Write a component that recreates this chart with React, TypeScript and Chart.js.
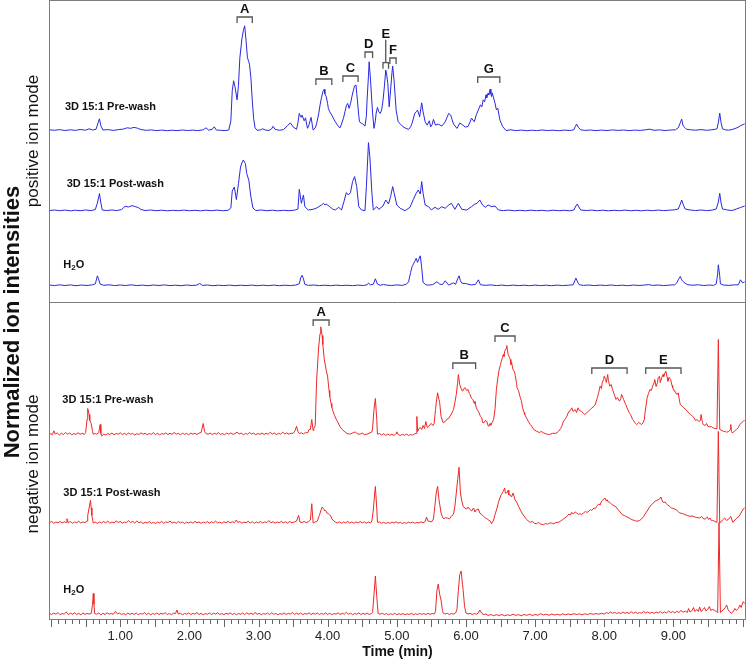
import React, { useEffect, useRef } from 'react';
import { Chart, registerables } from 'chart.js';

Chart.register(...registerables);

// ---------------- DATA (time in min, intensity above each trace's own baseline, arbitrary units) ----------------
type Pt = [number, number];

const POS_PRE_WASH: Pt[] = [
  [-0.02, 1], [0.05, 0.5], [0.12, 1.2], [0.2, 0.3], [0.28, 1], [0.35, 0.4], [0.42, 1.3], [0.5, 0.6], [0.55, 2], [0.6, 0.8],
  [0.65, 1.5], [0.68, 8], [0.70, 12], [0.72, 5], [0.75, 0.8], [0.82, 1.2], [0.9, 0.4], [0.97, 1.1], [1.05, 1.8], [1.1, 3],
  [1.15, 2.5], [1.2, 3.4], [1.25, 2.6], [1.3, 1.2], [1.38, 0.5], [1.45, 0.9], [1.52, 0.2], [1.6, 0.7], [1.68, 0.1], [1.75, 0.6],
  [1.82, 0.2], [1.9, 0.8], [1.97, 0.3], [2.05, 0.7], [2.12, 0.2], [2.2, 1], [2.24, 3], [2.28, 0.6], [2.33, 1.5], [2.36, 4],
  [2.39, 0.8], [2.45, 0.5], [2.52, 0.2], [2.57, 0.8], [2.60, 10], [2.62, 40], [2.64, 50], [2.66, 44], [2.69, 31], [2.71, 45],
  [2.73, 73], [2.76, 92], [2.78, 100], [2.80, 105], [2.82, 90], [2.84, 73], [2.86, 69], [2.87, 66], [2.89, 53], [2.91, 30],
  [2.93, 12], [2.95, 3], [2.98, 0.5], [3.03, 1], [3.06, 2], [3.1, 0.7], [3.15, 0.3], [3.19, 2], [3.21, 4.5], [3.24, 1.5],
  [3.3, 0.5], [3.36, 1.2], [3.42, 5], [3.46, 8], [3.50, 4], [3.55, 1.5], [3.57, 8], [3.59, 17.4], [3.61, 14], [3.62, 13.5],
  [3.63, 15.7], [3.66, 10], [3.68, 13], [3.70, 5], [3.71, 2.5], [3.73, 6], [3.76, 13.4], [3.78, 5], [3.79, 0.7], [3.82, 3],
  [3.84, 7], [3.87, 17], [3.89, 25.7], [3.91, 33], [3.93, 39], [3.95, 41.4], [3.96, 37], [3.98, 34], [4.00, 27], [4.01, 22.4],
  [4.03, 19], [4.06, 15.7], [4.08, 13], [4.11, 9], [4.14, 6], [4.16, 4], [4.18, 3], [4.20, 6.7], [4.23, 13], [4.25, 19],
  [4.27, 25], [4.29, 27.4], [4.31, 22.4], [4.33, 27], [4.35, 34], [4.37, 40], [4.39, 45], [4.41, 45.7], [4.43, 30.7], [4.45, 15],
  [4.46, 9], [4.49, 7.5], [4.51, 6.7], [4.54, 4.7], [4.56, 15], [4.57, 30.7], [4.59, 55], [4.60, 69], [4.62, 50.7], [4.64, 28],
  [4.65, 17.4], [4.67, 2.4], [4.69, 10], [4.70, 17], [4.72, 23.4], [4.74, 19], [4.76, 17.4], [4.78, 20.7], [4.80, 30], [4.82, 44],
  [4.84, 60.7], [4.85, 58], [4.87, 47.4], [4.89, 24], [4.91, 40.7], [4.93, 58], [4.94, 64.7], [4.96, 50.7], [4.99, 20.7], [5.02, 9],
  [5.05, 7], [5.09, 4], [5.13, 2.5], [5.17, 1.4], [5.20, 4], [5.22, 7.4], [5.26, 17.4], [5.28, 19], [5.30, 20.7], [5.33, 14],
  [5.36, 28], [5.38, 19], [5.41, 9], [5.44, 5.7], [5.47, 10], [5.49, 4], [5.51, 6], [5.53, 11.4], [5.56, 5.7], [5.60, 6.7],
  [5.65, 4.7], [5.70, 9], [5.73, 14], [5.75, 17.4], [5.78, 15.7], [5.80, 11], [5.82, 6.7], [5.87, 2.4], [5.91, 7.7], [5.95, 6],
  [5.99, 3.7], [6.03, 4.3], [6.06, 9], [6.08, 12.7], [6.12, 9], [6.15, 16], [6.18, 21], [6.21, 26], [6.23, 24], [6.25, 31],
  [6.27, 29], [6.29, 36], [6.30, 33], [6.32, 37.7], [6.33, 36], [6.35, 41.7], [6.36, 37], [6.37, 34.3], [6.38, 38], [6.40, 32.7],
  [6.42, 27.7], [6.44, 21], [6.46, 22.7], [6.49, 11], [6.53, 4.3], [6.58, 0.3], [6.65, 1], [6.72, 0.2], [6.8, 0.7], [6.88, 0.1],
  [6.95, 0.6], [7.02, 0.2], [7.1, 0.8], [7.18, 0.3], [7.26, 0.6], [7.34, 0.1], [7.42, 0.7], [7.50, 0.3], [7.56, 1], [7.58, 4],
  [7.60, 6.7], [7.63, 3], [7.66, 1], [7.72, 0.4], [7.8, 0.8], [7.88, 0.2], [7.96, 0.7], [8.04, 0.3], [8.12, 0.9], [8.2, 0.4],
  [8.28, 0.8], [8.36, 0.2], [8.44, 0.7], [8.52, 0.4], [8.6, 1], [8.66, 1.6], [8.72, 0.5], [8.8, 0.9], [8.88, 0.3], [8.96, 0.8],
  [9.03, 1], [9.07, 3], [9.10, 8], [9.12, 11.7], [9.14, 5], [9.17, 3], [9.19, 1.5], [9.25, 1], [9.32, 0.6], [9.4, 1.2],
  [9.48, 0.5], [9.55, 1], [9.60, 1.5], [9.63, 2], [9.65, 8], [9.67, 17.7], [9.69, 8], [9.71, 2], [9.75, 1], [9.8, 0.6],
  [9.86, 1.5], [9.92, 3], [9.97, 5], [10.03, 7],
];

const POS_POST_WASH: Pt[] = [
  [-0.02, 0.5], [0.05, 1], [0.12, 0.3], [0.2, 0.9], [0.28, 0.2], [0.35, 0.8], [0.42, 0.3], [0.5, 1], [0.58, 0.4], [0.64, 1.5],
  [0.67, 8], [0.70, 17.4], [0.72, 8], [0.74, 1], [0.8, 0.5], [0.88, 1], [0.95, 0.4], [1.02, 1.5], [1.07, 4.7], [1.12, 4],
  [1.17, 5.4], [1.21, 4.5], [1.26, 3.5], [1.3, 1.5], [1.36, 0.5], [1.44, 1], [1.52, 0.3], [1.6, 0.8], [1.68, 0.2], [1.76, 0.7],
  [1.84, 0.3], [1.92, 0.9], [2.0, 0.3], [2.08, 0.7], [2.16, 0.2], [2.24, 0.8], [2.32, 0.3], [2.40, 0.9], [2.48, 0.3], [2.56, 0.7],
  [2.60, 3], [2.62, 20], [2.65, 24], [2.68, 11.4], [2.71, 27.4], [2.74, 44], [2.76, 48], [2.78, 51], [2.81, 47.4], [2.83, 37.4],
  [2.86, 30.7], [2.89, 14], [2.92, 3], [2.96, 0.5], [3.04, 1], [3.12, 0.3], [3.2, 0.8], [3.28, 0.2], [3.36, 0.7], [3.44, 0.3],
  [3.52, 0.8], [3.57, 2], [3.59, 21.7], [3.62, 7.7], [3.65, 16], [3.67, 4.3], [3.72, 1], [3.79, 1.7], [3.84, 3], [3.87, 4.3],
  [3.91, 6], [3.94, 7.7], [3.96, 6], [3.98, 7], [4.03, 4.3], [4.07, 2], [4.11, 1], [4.16, 3.7], [4.20, 1], [4.23, 8],
  [4.27, 18.4], [4.30, 16], [4.33, 18.4], [4.36, 29.4], [4.39, 34.4], [4.42, 24.4], [4.45, 4.3], [4.49, 1], [4.54, 0.3], [4.56, 24.4],
  [4.59, 68.4], [4.61, 54.4], [4.64, 17.7], [4.66, 1], [4.71, 4.3], [4.74, 1.7], [4.80, 5], [4.84, 11], [4.88, 7], [4.91, 14.4],
  [4.94, 24.4], [4.96, 18.4], [5.00, 6], [5.05, 2.7], [5.12, 0.3], [5.19, 3.7], [5.24, 11.7], [5.28, 17.7], [5.31, 21], [5.34, 17],
  [5.36, 29.4], [5.38, 17.7], [5.41, 6], [5.46, 4.3], [5.50, 1], [5.55, 3.7], [5.60, 1.7], [5.65, 4.3], [5.70, 2.7], [5.75, 6],
  [5.79, 7.7], [5.84, 1.7], [5.89, 7.7], [5.94, 1.7], [6.01, 1], [6.08, 4.3], [6.13, 7], [6.16, 7.7], [6.20, 11], [6.24, 6],
  [6.28, 3.7], [6.32, 6], [6.37, 4.3], [6.42, 5], [6.47, 1], [6.54, 0.4], [6.62, 0.9], [6.7, 0.2], [6.78, 0.7], [6.86, 0.2],
  [6.94, 0.8], [7.02, 0.3], [7.1, 0.7], [7.18, 0.1], [7.26, 0.8], [7.34, 0.3], [7.42, 0.7], [7.50, 0.2], [7.56, 1], [7.59, 5],
  [7.61, 7], [7.64, 3], [7.66, 1], [7.74, 0.5], [7.82, 0.9], [7.9, 0.3], [7.98, 0.8], [8.06, 0.2], [8.14, 0.7], [8.22, 0.3],
  [8.3, 0.9], [8.38, 0.3], [8.46, 0.7], [8.54, 0.2], [8.62, 0.8], [8.7, 0.3], [8.78, 0.9], [8.86, 0.4], [8.94, 0.8], [9.02, 1.2],
  [9.07, 2], [9.10, 7], [9.12, 11], [9.15, 5], [9.17, 2], [9.24, 1], [9.32, 0.5], [9.4, 1], [9.48, 0.4], [9.56, 0.9],
  [9.62, 2], [9.65, 9], [9.67, 17.7], [9.69, 8], [9.71, 2], [9.78, 1], [9.85, 0.5], [9.91, 2], [9.97, 3.5], [10.03, 5],
];

const POS_H2O: Pt[] = [
  [-0.02, 0.8], [0.05, 0.2], [0.12, 1], [0.2, 0.3], [0.28, 0.9], [0.36, 0.1], [0.44, 0.8], [0.52, 0.3], [0.6, 1], [0.64, 2],
  [0.67, 10], [0.69, 6], [0.71, 1.7], [0.76, 0.5], [0.84, 1], [0.92, 0.2], [1.0, 0.8], [1.08, 0.3], [1.16, 1], [1.24, 0.2],
  [1.32, 0.7], [1.4, 0.1], [1.48, 0.8], [1.56, 0.3], [1.64, 0.9], [1.72, 0.2], [1.8, 0.6], [1.88, 0.1], [1.96, 0.8], [2.04, 0.3],
  [2.1, 0.6], [2.15, 2.3], [2.19, 0.4], [2.26, 0.8], [2.34, 0.1], [2.42, 0.6], [2.5, 0.2], [2.58, 0.7], [2.66, 0.1], [2.74, 0.6],
  [2.82, 0.2], [2.9, 0.7], [2.98, 0.1], [3.06, 0.6], [3.14, 0.2], [3.22, 0.7], [3.3, 0.1], [3.38, 0.6], [3.46, 0.2], [3.54, 0.8],
  [3.59, 2], [3.61, 8], [3.63, 10.5], [3.65, 7], [3.67, 1.5], [3.72, 0.4], [3.8, 0.8], [3.88, 0.2], [3.96, 0.6], [4.04, 0.1],
  [4.12, 0.7], [4.2, 0.2], [4.28, 0.6], [4.36, 0.1], [4.44, 0.7], [4.52, 0.3], [4.57, 1], [4.59, 2.7], [4.62, 1], [4.66, 1.5],
  [4.69, 7], [4.72, 1.7], [4.76, 0.5], [4.81, 1.3], [4.85, 0.7], [4.92, 0.3], [5.0, 0.9], [5.08, 0.4], [5.14, 1.7], [5.17, 4],
  [5.20, 13.4], [5.22, 19], [5.24, 21.7], [5.26, 24.5], [5.28, 27.4], [5.30, 23.4], [5.32, 27], [5.34, 30], [5.36, 18], [5.38, 3.4],
  [5.42, 1], [5.46, 0.7], [5.52, 1.2], [5.58, 4], [5.62, 1.7], [5.66, 1.2], [5.70, 5], [5.75, 0.7], [5.82, 3], [5.85, 1.5],
  [5.88, 7], [5.90, 10], [5.92, 5], [5.94, 2.7], [6.01, 2], [6.08, 0.8], [6.14, 1.5], [6.18, 6], [6.21, 1], [6.28, 0.5],
  [6.36, 0.9], [6.44, 0.2], [6.52, 0.7], [6.6, 0.1], [6.68, 0.7], [6.76, 0.2], [6.84, 0.6], [6.92, 0.1], [7.0, 0.7], [7.08, 0.2],
  [7.16, 0.6], [7.24, 0.1], [7.32, 0.7], [7.4, 0.2], [7.48, 0.6], [7.55, 1], [7.59, 7.7], [7.62, 3], [7.64, 1], [7.7, 0.4],
  [7.78, 0.8], [7.86, 0.2], [7.94, 0.7], [8.02, 0.3], [8.1, 0.8], [8.18, 0.2], [8.26, 0.6], [8.34, 0.1], [8.42, 0.8], [8.5, 0.3],
  [8.58, 0.7], [8.64, 1.2], [8.7, 0.4], [8.78, 0.8], [8.86, 0.2], [8.94, 0.7], [9.02, 1], [9.05, 3], [9.07, 6], [9.10, 9.3],
  [9.12, 6], [9.14, 4.3], [9.17, 2.5], [9.21, 1], [9.28, 0.6], [9.36, 1], [9.44, 0.3], [9.52, 0.8], [9.58, 0.4], [9.62, 2],
  [9.64, 12], [9.65, 21], [9.67, 10], [9.68, 2], [9.72, 0.8], [9.8, 0.4], [9.88, 0.9], [9.94, 1], [9.97, 6], [10.0, 3],
  [10.03, 4],
];

const NEG_PRE_WASH: Pt[] = [
  [-0.02, 1], [0.02, 0], [0.04, 3.7], [0.06, 0.5], [0.09, 1.5], [0.12, -0.5], [0.15, 1.2], [0.18, 0], [0.21, 2], [0.24, 0.3],
  [0.27, 1.5], [0.3, -0.3], [0.33, 1], [0.36, 0], [0.39, 1.8], [0.42, 0.2], [0.45, 1.2], [0.48, 0], [0.50, 2], [0.52, 15],
  [0.53, 26], [0.55, 20], [0.56, 14], [0.58, 11], [0.60, 3], [0.61, 0.3], [0.64, 1], [0.66, 0.3], [0.69, 2], [0.71, 10],
  [0.72, 1], [0.73, -1.7], [0.76, 0.5], [0.79, -0.5], [0.82, 1], [0.85, 0], [0.88, 1.5], [0.91, -0.3], [0.94, 1], [0.97, 0.2],
  [1.0, 1.7], [1.03, 0], [1.06, 1.2], [1.09, -0.3], [1.12, 1.5], [1.15, 0.3], [1.18, 1], [1.21, -0.5], [1.24, 0.8], [1.27, 0],
  [1.30, 1.7], [1.33, 0.3], [1.36, 1.2], [1.39, -0.2], [1.42, 1], [1.45, 0.2], [1.48, 1.8], [1.51, 0], [1.54, 1.1], [1.57, -0.4],
  [1.60, 1], [1.63, 0.3], [1.66, 1.6], [1.69, 0], [1.72, 1.2], [1.75, 0.2], [1.78, 2], [1.81, 0.4], [1.84, 1.1], [1.87, -0.2],
  [1.90, 1.3], [1.93, 0.2], [1.96, 1], [1.99, -0.3], [2.02, 1.5], [2.05, 0.3], [2.08, 1.2], [2.11, 0], [2.14, 1.4], [2.17, 2],
  [2.20, 11], [2.22, 3], [2.24, 1], [2.27, 0.2], [2.30, 1.5], [2.33, 0], [2.36, 1.2], [2.39, 0.4], [2.42, 1.8], [2.45, 0],
  [2.48, 1], [2.51, -0.3], [2.54, 1.3], [2.57, 0.3], [2.60, 1.6], [2.63, 0.1], [2.66, 1], [2.69, 2.3], [2.72, 0.5], [2.75, 1.4],
  [2.78, -0.2], [2.81, 1], [2.84, 0.3], [2.87, 1.9], [2.90, 0.5], [2.93, 1.3], [2.96, -0.2], [2.99, 1], [3.02, 0.2], [3.05, 1.5],
  [3.08, 0], [3.11, 1.2], [3.14, 0.3], [3.17, 2.2], [3.20, 0.4], [3.23, 1.5], [3.26, 0], [3.29, 1.1], [3.32, 0.3], [3.35, 2.4],
  [3.38, 0.6], [3.41, 1.6], [3.44, 0.2], [3.47, 1.3], [3.50, 1], [3.53, 4], [3.55, 8.3], [3.57, 3], [3.59, 1], [3.62, 1.6],
  [3.65, 0.5], [3.68, 2], [3.71, 1.5], [3.73, 5], [3.75, 5], [3.77, 15], [3.79, 4], [3.80, 6], [3.82, 9], [3.84, 54],
  [3.87, 87.6], [3.89, 101], [3.90, 107.6], [3.92, 99], [3.93, 90], [3.95, 76], [3.97, 67.6], [3.98, 64], [4.00, 57.6], [4.02, 44],
  [4.03, 38], [4.05, 31], [4.06, 27], [4.08, 22.6], [4.10, 19], [4.13, 14.3], [4.15, 12], [4.18, 7.6], [4.21, 5], [4.25, 2.6],
  [4.28, 1], [4.32, 0.3], [4.36, 1.5], [4.40, 2.6], [4.43, 0.5], [4.47, 0.3], [4.50, 1.5], [4.53, 0], [4.57, 0.3], [4.60, 1.2],
  [4.64, 2.6], [4.65, 6.6], [4.67, 25], [4.69, 36], [4.71, 15], [4.72, 0.3], [4.75, 1], [4.78, -0.5], [4.81, 0.8], [4.84, -1],
  [4.87, 0.5], [4.90, -0.8], [4.93, 0.3], [4.96, -1], [4.99, 1], [5.00, 2.7], [5.02, 0], [5.05, -1], [5.08, 0.2], [5.11, -0.8],
  [5.14, 0.4], [5.17, -1], [5.20, 0], [5.23, -0.7], [5.26, 0.8], [5.28, 1], [5.29, 18], [5.30, 3], [5.32, 6], [5.34, 7],
  [5.36, 5], [5.38, 9], [5.40, 6], [5.42, 13], [5.44, 7], [5.46, 8], [5.48, 10], [5.50, 11], [5.52, 9], [5.54, 11],
  [5.56, 25], [5.57, 31.7], [5.59, 41.7], [5.61, 35], [5.62, 31.7], [5.64, 18], [5.67, 11.7], [5.70, 13], [5.72, 15], [5.75, 16],
  [5.77, 18.3], [5.80, 22], [5.82, 25], [5.84, 32], [5.86, 40], [5.88, 52], [5.89, 60], [5.91, 50], [5.93, 46], [5.95, 43.3],
  [5.97, 46], [5.99, 46.7], [6.01, 44], [6.03, 45], [6.05, 41], [6.06, 40], [6.08, 36], [6.10, 35], [6.12, 31], [6.13, 33.3],
  [6.15, 26.7], [6.17, 24], [6.19, 21.7], [6.21, 18], [6.23, 16.7], [6.24, 12], [6.26, 11.7], [6.28, 14], [6.30, 13.3], [6.32, 9],
  [6.33, 8.3], [6.35, 11], [6.36, 9.3], [6.38, 12], [6.40, 15], [6.42, 25], [6.44, 45], [6.46, 56], [6.48, 65], [6.50, 70],
  [6.51, 73.3], [6.53, 77], [6.54, 80], [6.55, 78], [6.56, 83.3], [6.58, 86], [6.59, 89], [6.60, 84], [6.61, 80], [6.63, 77],
  [6.64, 75], [6.65, 70], [6.66, 72], [6.68, 65], [6.70, 63], [6.71, 60], [6.73, 52], [6.74, 46.7], [6.76, 44], [6.78, 38.3],
  [6.80, 34], [6.82, 26.7], [6.84, 22], [6.85, 20], [6.88, 16], [6.90, 13.3], [6.93, 10], [6.95, 8.3], [6.98, 5], [7.02, 3.3],
  [7.06, 2], [7.09, 3], [7.12, 1.7], [7.16, 0.5], [7.21, 0], [7.25, 1.2], [7.29, 1], [7.32, 2], [7.34, 3.3], [7.37, 6],
  [7.39, 9], [7.41, 13.3], [7.44, 16], [7.46, 18.3], [7.48, 22], [7.49, 23.3], [7.51, 24], [7.53, 26.7], [7.55, 23], [7.58, 25],
  [7.60, 22], [7.62, 26.7], [7.64, 24], [7.67, 23.3], [7.70, 21], [7.72, 20], [7.75, 22], [7.77, 23.3], [7.80, 25], [7.82, 26.7],
  [7.85, 28], [7.87, 30], [7.90, 36.7], [7.92, 42], [7.94, 48.3], [7.96, 46], [7.97, 51.7], [7.99, 55], [8.00, 58.3], [8.02, 55],
  [8.03, 52], [8.05, 60], [8.06, 54], [8.08, 48.3], [8.10, 50], [8.12, 45], [8.14, 41], [8.17, 35], [8.19, 37], [8.22, 33.3],
  [8.24, 36], [8.25, 40], [8.27, 37], [8.28, 35], [8.31, 30], [8.33, 26.7], [8.36, 22], [8.38, 20], [8.41, 15], [8.43, 13.3],
  [8.45, 11], [8.47, 10], [8.50, 12], [8.52, 11], [8.54, 10], [8.56, 11.7], [8.58, 15], [8.59, 21.7], [8.62, 36.7], [8.64, 41],
  [8.66, 45], [8.68, 44], [8.70, 48.3], [8.72, 52], [8.73, 55], [8.75, 48], [8.77, 51.7], [8.78, 57], [8.80, 58.3], [8.81, 52],
  [8.83, 56.7], [8.85, 60], [8.86, 58], [8.88, 62], [8.89, 63.3], [8.91, 57], [8.92, 53.3], [8.94, 57], [8.96, 55], [8.98, 49],
  [8.99, 46.7], [9.01, 44], [9.02, 43.3], [9.05, 40], [9.07, 41.7], [9.09, 33], [9.10, 30], [9.13, 28], [9.15, 26.7], [9.18, 25],
  [9.20, 23.3], [9.23, 21], [9.25, 20], [9.28, 18], [9.30, 16.7], [9.32, 14], [9.34, 15], [9.37, 13], [9.39, 14], [9.40, 20],
  [9.42, 12], [9.43, 10], [9.46, 9], [9.48, 11], [9.50, 8], [9.53, 7.7], [9.55, 8], [9.57, 6.7], [9.60, 6], [9.63, 5.7],
  [9.65, 95], [9.67, 5], [9.70, 4], [9.72, 3.3], [9.75, 3], [9.77, 2.3], [9.80, 3], [9.82, 5], [9.83, 10], [9.84, 3],
  [9.85, 1.7], [9.88, 3], [9.91, 5], [9.94, 7], [9.96, 10], [9.99, 12], [10.01, 13.3], [10.03, 14],
];

const NEG_POST_WASH: Pt[] = [
  [-0.02, 0.5], [0.01, 1.5], [0.04, -0.3], [0.07, 1], [0.10, 0.2], [0.13, 1.6], [0.16, 0], [0.19, 1.2], [0.22, 0.5], [0.23, 4.3],
  [0.25, 0.3], [0.28, 1.4], [0.31, -0.2], [0.34, 1], [0.37, 0.3], [0.40, 1.8], [0.43, 0], [0.46, 1.1], [0.49, 0.3], [0.52, 2],
  [0.53, 7.6], [0.55, 15], [0.57, 22.7], [0.58, 15], [0.59, 7.6], [0.61, 0], [0.64, 1], [0.67, -0.5], [0.70, 1.2], [0.73, 0],
  [0.76, 1.5], [0.79, 0.2], [0.82, 2], [0.85, -0.3], [0.88, 1], [0.91, 0], [0.94, 2.2], [0.97, 0.5], [1.00, 1.5], [1.03, -0.2],
  [1.06, 1], [1.09, 0.3], [1.12, 2.5], [1.15, 0.5], [1.18, 1.6], [1.21, 0], [1.24, 2], [1.27, 0.3], [1.30, 1.2], [1.33, -0.5],
  [1.36, 0.8], [1.39, 0], [1.42, 1.5], [1.45, -0.4], [1.48, 0.7], [1.51, -0.5], [1.54, 1], [1.57, 0], [1.60, 1.7], [1.63, -0.3],
  [1.66, 1.2], [1.69, 0.4], [1.72, 2], [1.75, 0], [1.78, 1], [1.81, -0.3], [1.84, 1.4], [1.87, 0.2], [1.90, 1], [1.93, -0.5],
  [1.96, 0.8], [1.99, 0], [2.02, 1.2], [2.05, -0.2], [2.08, 1.6], [2.11, 0.3], [2.14, 1], [2.17, -0.4], [2.20, 0.9], [2.23, 0.1],
  [2.26, 1.5], [2.29, -0.2], [2.32, 1.1], [2.35, 0.3], [2.38, 1.8], [2.41, 0], [2.44, 1], [2.47, -0.3], [2.50, 1.3], [2.53, 0.2],
  [2.56, 1.7], [2.59, 0], [2.62, 1.2], [2.65, 0.4], [2.68, 3], [2.70, 0.5], [2.73, 1.5], [2.76, -0.2], [2.79, 1], [2.82, 0.2],
  [2.85, 1.8], [2.88, 0], [2.91, 1.3], [2.94, -0.3], [2.97, 1], [3.00, 0.2], [3.03, 1.5], [3.06, 0], [3.09, 1.1], [3.12, 0.4],
  [3.15, 2.5], [3.18, 0.2], [3.21, 1.3], [3.24, -0.2], [3.27, 1], [3.30, 0.3], [3.33, 1.7], [3.36, 0.2], [3.39, 1.2], [3.42, 0],
  [3.45, 1.5], [3.48, 0.3], [3.52, 1], [3.55, 2], [3.58, 7.6], [3.60, 1], [3.63, 0.5], [3.66, 1.5], [3.69, 0.3], [3.72, 1.2],
  [3.75, 3], [3.77, 19.3], [3.79, 0], [3.82, 1], [3.85, 2], [3.88, 7.6], [3.90, 12], [3.92, 16], [3.94, 14.3], [3.96, 12],
  [3.97, 12.7], [3.99, 10], [4.01, 9.3], [4.03, 8], [4.04, 7.6], [4.06, 4.3], [4.09, 2], [4.11, 1], [4.14, 0], [4.17, 1.3],
  [4.20, -0.3], [4.23, 1], [4.26, 0.2], [4.29, 1.6], [4.32, 0], [4.35, 1], [4.38, -0.3], [4.41, 1.2], [4.44, 0], [4.47, 1.5],
  [4.50, 0.3], [4.53, 1.1], [4.56, -0.2], [4.59, 1], [4.62, 0], [4.64, 2], [4.66, 12.7], [4.68, 30], [4.69, 36.5], [4.71, 15],
  [4.72, 0.7], [4.75, 1], [4.78, -0.3], [4.81, 0.8], [4.84, -0.5], [4.87, 0.6], [4.90, -0.4], [4.93, 0.9], [4.96, 0], [4.99, 1.2],
  [5.02, -0.2], [5.05, 0.7], [5.08, -0.5], [5.11, 0.5], [5.14, -0.3], [5.17, 0.9], [5.20, 0], [5.23, 1], [5.26, -0.3], [5.29, 0.6],
  [5.32, 0], [5.35, 1.2], [5.38, 0.2], [5.41, 1.5], [5.43, 6], [5.45, 2], [5.47, 1.7], [5.50, 1], [5.53, 4], [5.55, 16.7],
  [5.57, 30], [5.59, 36.7], [5.61, 23.3], [5.64, 10], [5.66, 6], [5.68, 4], [5.70, 5.5], [5.73, 5], [5.76, 4], [5.79, 6.7],
  [5.82, 9], [5.84, 16.7], [5.86, 30], [5.88, 43.3], [5.90, 55.7], [5.92, 30], [5.94, 22], [5.96, 16.7], [5.98, 15], [6.01, 14],
  [6.03, 16], [6.06, 13.3], [6.08, 12], [6.11, 15], [6.13, 11], [6.15, 13.3], [6.18, 14], [6.20, 10], [6.23, 8.3], [6.25, 7],
  [6.28, 5], [6.30, 4.5], [6.32, 3.3], [6.35, 2], [6.37, -0.7], [6.40, 3], [6.42, 8.3], [6.45, 15], [6.47, 20.7], [6.49, 25],
  [6.51, 28.3], [6.54, 31.7], [6.56, 35], [6.57, 30], [6.59, 30], [6.61, 32.7], [6.62, 28], [6.64, 28.3], [6.66, 26], [6.68, 30],
  [6.70, 26], [6.71, 23.3], [6.74, 20], [6.76, 16.7], [6.78, 14], [6.81, 10], [6.83, 8], [6.85, 6], [6.88, 3.5], [6.90, 2],
  [6.93, 0.7], [6.96, 1.5], [6.99, -0.3], [7.02, -0.7], [7.05, 0.5], [7.08, -1], [7.12, -1.7], [7.15, -0.5], [7.18, -1.2], [7.21, 0],
  [7.24, 0], [7.27, -0.8], [7.30, 0.5], [7.34, 0.7], [7.37, 2], [7.40, 3.5], [7.43, 5], [7.46, 6.7], [7.49, 9], [7.51, 8],
  [7.53, 10.7], [7.55, 9], [7.58, 11], [7.60, 10], [7.63, 8.5], [7.65, 9.5], [7.67, 8.3], [7.70, 10], [7.73, 11.7], [7.75, 10.5],
  [7.78, 12], [7.80, 13.3], [7.82, 12.5], [7.85, 15], [7.87, 14.5], [7.89, 16.7], [7.92, 19], [7.94, 18], [7.96, 21.7], [7.98, 23],
  [8.01, 25], [8.03, 22], [8.04, 23.3], [8.06, 21], [8.08, 20.7], [8.11, 18.5], [8.14, 17.3], [8.17, 16], [8.20, 13.3], [8.23, 11],
  [8.26, 8.3], [8.29, 7.5], [8.33, 6], [8.36, 5], [8.40, 3.3], [8.44, 2.5], [8.47, 1.7], [8.51, 2.5], [8.54, 4], [8.57, 6.5],
  [8.60, 10], [8.63, 13], [8.66, 16.7], [8.69, 18.5], [8.71, 20], [8.73, 21.7], [8.76, 22.5], [8.78, 23.3], [8.80, 24], [8.82, 26],
  [8.84, 22], [8.85, 20.7], [8.88, 21], [8.91, 18.3], [8.94, 17], [8.97, 15], [9.00, 14.5], [9.04, 13.3], [9.07, 11.5], [9.09, 10],
  [9.13, 9.5], [9.17, 8.3], [9.20, 7.5], [9.24, 6.7], [9.27, 7], [9.31, 6], [9.34, 5.5], [9.38, 5], [9.41, 6.5], [9.44, 4],
  [9.46, 4], [9.49, 6], [9.51, 3.5], [9.53, 5], [9.55, 2.5], [9.57, 2.7], [9.60, 1.5], [9.63, 0.7], [9.65, 91.6], [9.67, 0],
  [9.71, 3], [9.74, 5], [9.77, 2.5], [9.80, 4], [9.83, 6.7], [9.86, 0.7], [9.89, 3], [9.91, 4.5], [9.94, 6], [9.97, 9],
  [10.01, 14], [10.03, 15],
];

const NEG_H2O: Pt[] = [
  [-0.02, 1], [0.01, 0], [0.04, 1.5], [0.07, 0.3], [0.10, 2], [0.13, -0.2], [0.16, 1], [0.19, 0.5], [0.22, 2.5], [0.25, 0],
  [0.28, 1.3], [0.31, 0.3], [0.34, 1.7], [0.37, 0], [0.40, 1.2], [0.43, -0.3], [0.46, 1.5], [0.49, 0.2], [0.52, 1], [0.55, 0.5],
  [0.58, 1], [0.60, 10], [0.61, 21], [0.62, 10], [0.63, 1], [0.66, 0.2], [0.69, 1.5], [0.72, -0.3], [0.75, 1.2], [0.78, 0],
  [0.81, 1.7], [0.84, 0.4], [0.87, 1], [0.90, 0.2], [0.93, 3], [0.96, 0.5], [0.99, 1.5], [1.02, 0], [1.05, 1], [1.08, -0.3],
  [1.11, 1.4], [1.14, 0.2], [1.17, 1.1], [1.20, 0], [1.23, 1.6], [1.26, -0.2], [1.29, 1], [1.32, 0.3], [1.35, 1.8], [1.38, 0],
  [1.41, 1.2], [1.44, -0.3], [1.47, 1], [1.50, 0.2], [1.53, 1.5], [1.56, 0], [1.59, 1.2], [1.62, 0.4], [1.65, 1.8], [1.68, 0],
  [1.71, 1], [1.74, -0.2], [1.77, 1.3], [1.80, 1], [1.82, 4.5], [1.84, 0.5], [1.87, 1.2], [1.90, -0.2], [1.93, 1], [1.96, 0.3],
  [1.99, 1.6], [2.02, 0], [2.05, 1.1], [2.08, 0.4], [2.11, 2], [2.14, 0], [2.17, 1.2], [2.20, -0.3], [2.23, 1], [2.26, 0.2],
  [2.29, 1.5], [2.32, 0], [2.35, 1.3], [2.38, 0.4], [2.41, 1.8], [2.44, 0], [2.47, 1], [2.50, -0.2], [2.53, 1.2], [2.56, 0.3],
  [2.59, 1.6], [2.62, 0], [2.65, 1.1], [2.68, -0.3], [2.71, 1], [2.74, 0.2], [2.77, 1.4], [2.80, 0], [2.83, 1.7], [2.86, 0.3],
  [2.89, 1.2], [2.92, 0], [2.95, 2], [2.98, 0.2], [3.01, 1.3], [3.04, -0.2], [3.07, 1], [3.10, 0.3], [3.13, 1.5], [3.16, 0],
  [3.19, 1.8], [3.22, 0.2], [3.25, 1.1], [3.28, -0.3], [3.31, 1], [3.34, 0.2], [3.37, 1.6], [3.40, 0], [3.43, 1.2], [3.46, 0.4],
  [3.49, 2], [3.52, 0], [3.55, 1.3], [3.58, 0.2], [3.61, 1.5], [3.64, -0.2], [3.67, 1], [3.70, 0.3], [3.73, 1.7], [3.76, 0],
  [3.79, 1.2], [3.82, 0.3], [3.85, 1.5], [3.88, 0], [3.91, 1.1], [3.94, 0.2], [3.97, 1.6], [4.00, 0], [4.03, 1.3], [4.06, -0.2],
  [4.09, 1], [4.12, 0.3], [4.15, 1.7], [4.18, 0], [4.21, 1.2], [4.24, 0.3], [4.27, 2.2], [4.30, 0.2], [4.33, 1.3], [4.36, -0.2],
  [4.39, 1], [4.42, 0.3], [4.45, 1.6], [4.48, 0], [4.51, 1.1], [4.54, 0.2], [4.57, 1.5], [4.60, 0], [4.63, 1], [4.65, 2],
  [4.67, 20], [4.69, 38.5], [4.71, 18], [4.73, 1], [4.76, 0.3], [4.79, 1.2], [4.82, 0], [4.85, 1], [4.88, -0.3], [4.91, 0.8],
  [4.94, 0], [4.97, 1.2], [5.00, -0.2], [5.03, 0.8], [5.06, 0], [5.09, 1], [5.12, -0.3], [5.15, 0.7], [5.18, 0], [5.21, 1.1],
  [5.24, -0.2], [5.27, 0.8], [5.30, 0], [5.33, 1], [5.36, 0.2], [5.39, 0.9], [5.42, 0], [5.45, 1.2], [5.48, 0.1], [5.51, 1],
  [5.54, 0.5], [5.56, 3], [5.58, 24], [5.60, 30.5], [5.62, 20], [5.64, 14.5], [5.66, 4], [5.67, 1.5], [5.70, 0.5], [5.73, 1.2],
  [5.76, 0], [5.79, 1], [5.82, 0.3], [5.85, 1.5], [5.87, 5], [5.89, 24], [5.91, 40], [5.93, 43.5], [5.95, 30], [5.96, 24],
  [5.98, 8], [6.00, 1.5], [6.03, 0.5], [6.06, 1.2], [6.09, 0], [6.12, 1], [6.15, 0.3], [6.18, 1.5], [6.20, 4.5], [6.23, 1],
  [6.26, 0], [6.29, 0.5], [6.32, -1], [6.36, 0], [6.40, -1.2], [6.44, -0.2], [6.48, -1], [6.52, 0], [6.56, -1.3], [6.60, -0.3],
  [6.64, -1], [6.68, 0.2], [6.72, -0.8], [6.76, -0.2], [6.80, -1.2], [6.84, 0], [6.88, -0.8], [6.92, 0.3], [6.96, -1], [7.00, 0],
  [7.04, -0.7], [7.08, 0.8], [7.12, -0.5], [7.16, 0.3], [7.20, -0.8], [7.24, 0.5], [7.28, -0.5], [7.32, 0.2], [7.36, -0.6], [7.40, 0.7],
  [7.44, -0.3], [7.48, 0.5], [7.52, -0.2], [7.56, 0.8], [7.60, 0], [7.64, 0.6], [7.68, -0.3], [7.72, 0.7], [7.76, 0], [7.80, 1],
  [7.84, 0.2], [7.88, 0.9], [7.92, 0.3], [7.96, 1.2], [8.00, 0.5], [8.03, 2], [8.06, 1], [8.09, 2.5], [8.12, 1.2], [8.15, 2.2],
  [8.18, 1], [8.21, 2], [8.24, 0.8], [8.27, 2.5], [8.30, 1.2], [8.33, 2], [8.36, 1], [8.39, 2.8], [8.42, 1.2], [8.45, 2.3],
  [8.48, 1], [8.51, 2], [8.54, 1.3], [8.57, 3], [8.60, 1.5], [8.63, 2.5], [8.66, 1.2], [8.69, 2.2], [8.72, 1], [8.75, 2.5],
  [8.78, 1.5], [8.81, 3], [8.84, 1.2], [8.87, 2.6], [8.90, 1.5], [8.93, 3.5], [8.96, 2], [8.99, 3], [9.02, 1.5], [9.05, 3.2],
  [9.08, 2], [9.11, 4], [9.14, 2.2], [9.17, 3.5], [9.20, 2], [9.22, 6], [9.24, 2.5], [9.27, 4], [9.29, 7], [9.31, 3],
  [9.34, 5], [9.36, 3], [9.38, 7.5], [9.40, 3], [9.43, 5], [9.45, 7], [9.47, 3.5], [9.50, 5.5], [9.52, 8], [9.54, 4],
  [9.56, 5], [9.59, 4.5], [9.62, 3], [9.64, 2], [9.66, 92], [9.68, 2], [9.70, 3.5], [9.72, 4.5], [9.75, 7], [9.77, 9.5],
  [9.79, 5], [9.81, 3], [9.84, 1], [9.87, 3.5], [9.89, 6], [9.91, 4], [9.94, 6], [9.96, 9.5], [9.98, 7], [10.01, 12.8],
  [10.03, 11],
];

// Axis ticks
const X_TICK_VALUES = [1, 2, 3, 4, 5, 6, 7, 8, 9];
const X_TICK_LABELS = ['1.00', '2.00', '3.00', '4.00', '5.00', '6.00', '7.00', '8.00', '9.00'];

// Trace labels
const TRACE_NAMES = ['3D 15:1 Pre-wash', '3D 15:1 Post-wash', 'H2O'];
const POS_LABEL_T = [0.2, 0.226, 0.177];
const POS_LABEL_V = [196, 118.4, 37.7];
const NEG_LABEL_T = [0.162, 0.177, 0.177];
const NEG_LABEL_V = [220, 127, 30.5];

// Peak annotations (brackets)
const POS_PEAK_NAMES = ['A', 'B', 'C', 'D', 'E', 'F', 'G'];
const POS_PEAK_START = [2.69, 3.83, 4.22, 4.54, 4.80, 4.90, 6.17];
const POS_PEAK_END = [2.91, 4.06, 4.44, 4.65, 4.88, 4.99, 6.49];
const POS_PEAK_LEVEL = [285.7, 223.7, 226.7, 250.7, 240, 244.7, 225.7];
const POS_PEAK_LABEL_LEVEL = [null, null, null, null, 265, null, null];

const NEG_PEAK_NAMES = ['A', 'B', 'C', 'D', 'E'];
const NEG_PEAK_START = [3.79, 5.81, 6.42, 7.82, 8.60];
const NEG_PEAK_END = [4.02, 6.14, 6.71, 8.33, 9.11];
const NEG_PEAK_LEVEL = [300, 257, 284, 252, 252];

// ---------------- layout / style ----------------
const POS_OFFSETS = [171.9, 91.7, 16.9];
const NEG_OFFSETS = [185.5, 97, 5.5];
const POS_RANGE = 301.7;
const NEG_RANGE = 317.3;
const BLUE = 'rgb(40,40,225)';
const RED = 'rgb(238,40,40)';
const FONT = '"Liberation Sans", Arial, Helvetica, sans-serif';

function toPoints(pts: Pt[], off: number) {
  return pts.map(([t, h]) => ({ x: t, y: h + off }));
}

function drawTraceLabel(ctx: CanvasRenderingContext2D, text: string, x: number, y: number) {
  ctx.textAlign = 'left';
  ctx.textBaseline = 'middle';
  ctx.font = `bold 11px ${FONT}`;
  if (text === 'H2O') {
    ctx.fillText('H', x, y);
    let w = ctx.measureText('H').width;
    ctx.font = `bold 8px ${FONT}`;
    ctx.fillText('2', x + w, y + 3);
    w += ctx.measureText('2').width;
    ctx.font = `bold 11px ${FONT}`;
    ctx.fillText('O', x + w, y);
  } else {
    ctx.fillText(text, x, y);
  }
}

const overlayPlugin = {
  id: 'overlay',
  afterDraw(chart: any) {
    const { ctx, chartArea: ca, scales } = chart;
    const xs = scales.x;
    const yp = scales.yPos;
    const yn = scales.yNeg;
    ctx.save();

    // frame + divider
    ctx.strokeStyle = '#7c7c7c';
    ctx.lineWidth = 1;
    ctx.strokeRect(ca.left + 0.5, ca.top - 0.5, ca.right - ca.left - 1, ca.bottom - ca.top);
    const dy = Math.round(yp.bottom) - 0.5;
    ctx.beginPath();
    ctx.moveTo(ca.left, dy);
    ctx.lineTo(ca.right, dy);
    ctx.stroke();

    // x tick marks (minor every 0.1 min, longer every 0.5 min)
    ctx.strokeStyle = '#666';
    ctx.beginPath();
    for (let i = 0; i <= 100; i++) {
      const px = Math.round(xs.getPixelForValue(i / 10)) + 0.5;
      if (px > ca.right) continue;
      const len = i % 5 === 0 ? 7 : 4;
      ctx.moveTo(px, ca.bottom);
      ctx.lineTo(px, ca.bottom + len);
    }
    ctx.stroke();

    // peak brackets
    const drawBrackets = (ys: any, names: string[], s: number[], e: number[], lv: number[], lab?: (number | null)[]) => {
      for (let i = 0; i < names.length; i++) {
        const x1 = xs.getPixelForValue(s[i]);
        const x2 = xs.getPixelForValue(e[i]);
        const y = ys.getPixelForValue(lv[i]);
        ctx.strokeStyle = '#555';
        ctx.lineWidth = 1.3;
        ctx.beginPath();
        ctx.moveTo(x1, y + 6);
        ctx.lineTo(x1, y);
        ctx.lineTo(x2, y);
        ctx.lineTo(x2, y + 6);
        ctx.stroke();
        const cx = (x1 + x2) / 2;
        ctx.fillStyle = '#111';
        ctx.font = `bold 13px ${FONT}`;
        ctx.textAlign = 'center';
        ctx.textBaseline = 'alphabetic';
        const l = lab ? lab[i] : null;
        if (l !== null && l !== undefined) {
          const ly = ys.getPixelForValue(l);
          ctx.beginPath();
          ctx.moveTo(cx, ly + 2);
          ctx.lineTo(cx, y);
          ctx.stroke();
          ctx.fillText(names[i], cx, ly);
        } else {
          ctx.fillText(names[i], cx, y - 4);
        }
      }
    };
    drawBrackets(yp, POS_PEAK_NAMES, POS_PEAK_START, POS_PEAK_END, POS_PEAK_LEVEL, POS_PEAK_LABEL_LEVEL);
    drawBrackets(yn, NEG_PEAK_NAMES, NEG_PEAK_START, NEG_PEAK_END, NEG_PEAK_LEVEL);

    // trace labels
    ctx.fillStyle = '#111';
    for (let i = 0; i < TRACE_NAMES.length; i++) {
      drawTraceLabel(ctx, TRACE_NAMES[i], xs.getPixelForValue(POS_LABEL_T[i]), yp.getPixelForValue(POS_LABEL_V[i]));
      drawTraceLabel(ctx, TRACE_NAMES[i], xs.getPixelForValue(NEG_LABEL_T[i]), yn.getPixelForValue(NEG_LABEL_V[i]));
    }

    // left rotated titles
    const rot = (text: string, x: number, y: number, font: string) => {
      ctx.save();
      ctx.translate(x, y);
      ctx.rotate(-Math.PI / 2);
      ctx.font = font;
      ctx.textAlign = 'center';
      ctx.textBaseline = 'alphabetic';
      ctx.fillStyle = '#111';
      ctx.fillText(text, 0, 0);
      ctx.restore();
    };
    rot('Normalized ion intensities', 18.5, 322, `bold 22px ${FONT}`);
    rot('positive ion mode', 37.5, 141, `17px ${FONT}`);
    rot('negative ion mode', 37.5, 464, `17px ${FONT}`);

    ctx.restore();
  },
};

export default function App() {
  const ref = useRef<HTMLCanvasElement>(null);

  useEffect(() => {
    const posData = [POS_PRE_WASH, POS_POST_WASH, POS_H2O];
    const negData = [NEG_PRE_WASH, NEG_POST_WASH, NEG_H2O];
    const datasets: any[] = [];
    posData.forEach((d, i) =>
      datasets.push({
        label: 'positive ' + TRACE_NAMES[i],
        data: toPoints(d, POS_OFFSETS[i]),
        yAxisID: 'yPos',
        borderColor: BLUE,
        borderWidth: 1,
        pointRadius: 0,
        fill: false,
        tension: 0,
      })
    );
    negData.forEach((d, i) =>
      datasets.push({
        label: 'negative ' + TRACE_NAMES[i],
        data: toPoints(d, NEG_OFFSETS[i]),
        yAxisID: 'yNeg',
        borderColor: RED,
        borderWidth: 1,
        pointRadius: 0,
        fill: false,
        tension: 0,
      })
    );

    const hiddenY = (min: number, max: number, weight: number, stackWeight: number) => ({
      type: 'linear',
      position: 'left',
      stack: 'ion',
      stackWeight,
      weight,
      min,
      max,
      display: true,
      ticks: { display: false },
      grid: { display: false, drawTicks: false },
      border: { display: false },
      afterFit: (s: any) => {
        s.width = 0;
      },
    });

    const chart = new Chart(ref.current as HTMLCanvasElement, {
      type: 'line',
      data: { datasets },
      options: {
        responsive: false,
        animation: false,
        devicePixelRatio: 1,
        layout: { padding: { left: 49, right: 1, top: 1, bottom: 0 } },
        plugins: {
          legend: { display: false },
          tooltip: { enabled: false },
        },
        scales: {
          x: {
            type: 'linear',
            position: 'bottom',
            min: -0.03,
            max: 10.05,
            grid: { display: false, drawTicks: false },
            border: { display: false },
            afterBuildTicks: (s: any) => {
              s.ticks = X_TICK_VALUES.map((v) => ({ value: v }));
            },
            ticks: {
              autoSkip: false,
              maxRotation: 0,
              minRotation: 0,
              padding: 9,
              color: '#222',
              font: { family: FONT, size: 13 },
              callback: (_v: any, i: number) => X_TICK_LABELS[i],
            },
            title: {
              display: true,
              text: 'Time (min)',
              color: '#111',
              font: { family: FONT, size: 14, weight: 'bold' },
              padding: { top: 0, bottom: 1 },
            },
            afterFit: (s: any) => {
              s.height = 42;
            },
          },
          yNeg: hiddenY(0, NEG_RANGE, 1, NEG_RANGE),
          yPos: hiddenY(0, POS_RANGE, 2, POS_RANGE),
        } as any,
      },
      plugins: [overlayPlugin],
    } as any);

    return () => chart.destroy();
  }, []);

  return (
    <canvas
      ref={ref}
      width={747}
      height={662}
      style={{ position: 'absolute', left: 0, top: 0, width: 747, height: 662 }}
    />
  );
}
